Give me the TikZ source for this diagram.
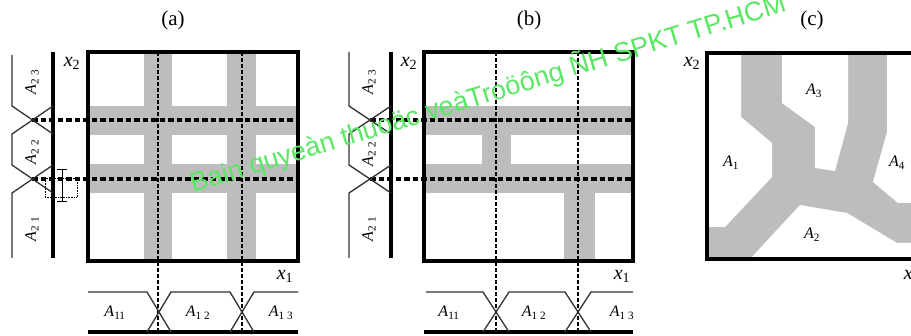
\documentclass[tikz,border=0pt]{standalone}
\usepackage{fontspec}
\setmainfont{Liberation Serif}
\newfontfamily\wmfont{Liberation Sans}
\definecolor{bandgray}{RGB}{189,189,189}
\definecolor{wmgreen}{RGB}{90,232,100}
\definecolor{mfgray}{RGB}{50,50,50}
\tikzset{
  band/.style={fill=bandgray},
  hdash/.style={line width=3.2pt,dash pattern=on 5.5pt off 3pt},
  vdash/.style={line width=2pt,dash pattern=on 4pt off 2pt},
  frame/.style={line width=3.5pt},
  axisline/.style={line width=3.2pt},
  mf/.style={line width=1.3pt,draw=mfgray},
  lab/.style={font=\fontsize{16}{16}\selectfont,inner sep=0pt},
  xlab/.style={font=\fontsize{20}{20}\selectfont\itshape,inner sep=0pt},
  ttl/.style={font=\fontsize{21}{21}\selectfont,inner sep=0pt}
}
\newcommand{\Alab}[1]{\textit{A}\textsubscript{#1}}
\begin{document}
\begin{tikzpicture}[x=1pt,y=-1pt]
\useasboundingbox (0,0) rectangle (911,336);
\fill[white] (0,0) rectangle (911,336);

% ---------------- panel (a) ----------------
\node[ttl] (ta) at (173,20) {(a)};
\fill[band] (144,52) rectangle (172,261);
\fill[band] (227,52) rectangle (256,261);
\fill[band] (88,106) rectangle (298,135);
\fill[band] (88,164) rectangle (298,193);
\draw[hdash] (32,120) -- (298,120);
\draw[hdash] (32,179) -- (298,179);
\draw[vdash] (158,52) -- (158,332);
\draw[vdash] (242,52) -- (242,332);
\draw[frame] (88,52) rectangle (298,261);
% left membership
\draw[axisline] (53,52) -- (53,258);
\draw[mf] (12,258) -- (12,193) -- (53,165);
\draw[mf] (53,193) -- (12,165) -- (12,134) -- (53,106);
\draw[mf] (53,134) -- (12,106) -- (12,55);
\node[lab,rotate=90] (a21) at (32,229) {\Alab{2 1}};
\node[lab,rotate=90] (a22) at (32,152) {\Alab{2 2}};
\node[lab,rotate=90] (a23) at (32,82) {\Alab{2 3}};
% cursor artifact
\draw[densely dotted,line width=0.6pt] (45,178) rectangle (77,197);
\draw[line width=1pt] (62,170) -- (62,202);
\draw[line width=1pt] (57,170) -- (67,170);
\draw[line width=1pt] (57,202) -- (67,202);
% bottom membership
\draw[axisline] (88,332) -- (298,332);
\draw[mf] (88,292) -- (147,292) -- (171,332);
\draw[mf] (147,332) -- (171,292) -- (230,292) -- (254,332);
\draw[mf] (230,332) -- (254,292) -- (298,292);
\node[lab] (a11) at (115,313) {\Alab{11}};
\node[lab] (a12) at (198,313) {\Alab{1 2}};
\node[lab] (a13) at (281,313) {\Alab{1 3}};
\node[xlab] (ax1) at (285,276) {x\textsubscript{\upshape 1}};
\node[xlab] (ax2) at (72,63) {x\textsubscript{\upshape 2}};

% ---------------- panel (b) ----------------
\node[ttl] (tb) at (529,20) {(b)};
\fill[band] (424,106) rectangle (633,135);
\fill[band] (424,164) rectangle (633,193);
\fill[band] (482,134) rectangle (511,165);
\fill[band] (564,192) rectangle (595,261);
\draw[hdash] (370,120) -- (633,120);
\draw[hdash] (370,179) -- (633,179);
\draw[vdash] (496,52) -- (496,332);
\draw[vdash] (578,52) -- (578,332);
\draw[frame] (424,52) rectangle (633,261);
\draw[axisline] (391,52) -- (391,258);
\draw[mf] (349,258) -- (349,193) -- (391,165);
\draw[mf] (391,193) -- (349,165) -- (349,134) -- (391,106);
\draw[mf] (391,134) -- (349,106) -- (349,52);
\node[lab,rotate=90] (b21) at (369,229) {\Alab{2 1}};
\node[lab,rotate=90] (b22) at (369,154) {\Alab{2 2}};
\node[lab,rotate=90] (b23) at (369,82) {\Alab{2 3}};
\draw[axisline] (424,332) -- (633,332);
\draw[mf] (426,292) -- (483,292) -- (509,332);
\draw[mf] (483,332) -- (509,292) -- (565,292) -- (591,332);
\draw[mf] (565,332) -- (591,292) -- (633,292);
\node[lab] (b11) at (449,313) {\Alab{11}};
\node[lab] (b12) at (534,313) {\Alab{1 2}};
\node[lab] (b13) at (622,313) {\Alab{1 3}};
\node[xlab] (bx1) at (622,276) {x\textsubscript{\upshape 1}};
\node[xlab] (bx2) at (409,63) {x\textsubscript{\upshape 2}};

% ---------------- panel (c) ----------------
\node[ttl] (tc) at (812,20) {(c)};
\fill[band] (707,53) rectangle (917,259);
\fill[white] (707,53) -- (741,53) -- (741,117) -- (772,143) -- (772,177)
  -- (725,227) -- (707,227) -- cycle;
\fill[white] (782,53) -- (848,53) -- (848,123) -- (835,171) -- (815,168)
  -- (815,127) -- (782,103) -- cycle;
\fill[white] (887,53) -- (887,132) -- (873,182) -- (898,203) -- (917,203)
  -- (917,53) -- cycle;
\fill[white] (750,259) -- (800,205) -- (847,213) -- (897,243) -- (917,243)
  -- (917,259) -- cycle;
\draw[frame] (707,53) rectangle (917,259);
\node[lab] (c1) at (731,163) {\Alab{1}};
\node[lab] (c2) at (812,235) {\Alab{2}};
\node[lab] (c3) at (814,91) {\Alab{3}};
\node[lab] (c4) at (897,163) {\Alab{4}};
\node[xlab] (cx2) at (692,63) {x\textsubscript{\upshape 2}};
\node[xlab] (cx1) at (912,276) {x\textsubscript{\upshape 1}};

% ---------------- watermark ----------------
\node[anchor=base west,rotate=17,inner sep=0pt,text=wmgreen,
  font=\wmfont\fontsize{27}{27}\selectfont] (wm) at (193,193)
  {Bain quyeàn thuoäc veàTroöông ÑH SPKT TP.HCM};
\end{tikzpicture}
\end{document}
